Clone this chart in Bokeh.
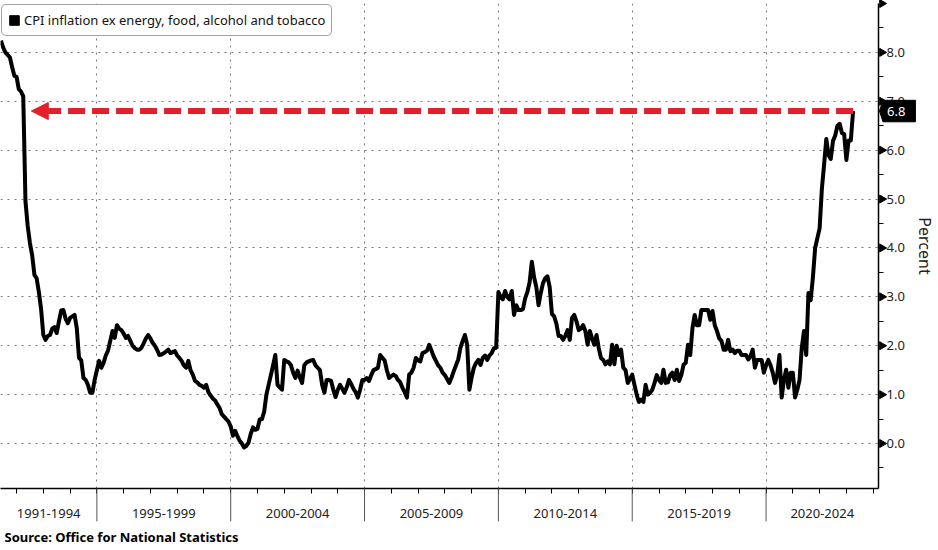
import math
from bokeh.plotting import figure
from bokeh.models import (Range1d, FixedTicker, Legend, LegendItem, Arrow,
                          NormalHead, Title, NumeralTickFormatter)
from bokeh.core.properties import value
from bokeh.embed import file_html
from bokeh.resources import INLINE

# ---------------- data (monthly, starting June 1991) ----------------
start_year, start_month = 1991, 6

cpi_1991_1994 = [8.24, 8.10, 8.00, 7.95, 7.90, 7.70, 7.52,
                 7.50, 7.25, 7.20, 7.10, 4.95, 4.45, 4.10, 3.85, 3.45, 3.38, 3.10, 2.75,
                 2.22, 2.12, 2.20, 2.22, 2.35, 2.38, 2.26, 2.50, 2.72, 2.73, 2.55, 2.46,
                 2.57, 2.60, 2.63, 2.36, 1.75, 1.70, 1.34, 1.30, 1.20, 1.04, 1.04, 1.30]
cpi_1995_1999 = [1.50, 1.69, 1.55, 1.65, 1.80, 1.90, 2.10, 2.30, 2.16, 2.42, 2.35, 2.32,
                 2.25, 2.16, 2.20, 2.10, 2.00, 1.95, 1.92, 1.92, 1.96, 2.05, 2.15, 2.22,
                 2.15, 2.06, 2.00, 1.92, 1.81, 1.82, 1.85, 1.88, 1.92, 1.85, 1.87, 1.89,
                 1.80, 1.75, 1.69, 1.60, 1.55, 1.69, 1.50, 1.41, 1.28, 1.25, 1.20, 1.18,
                 1.14, 1.20, 1.05, 0.98, 0.92, 0.88, 0.80, 0.73, 0.60, 0.55, 0.50, 0.45]
cpi_2000_2004 = [0.35, 0.16, 0.26, 0.15, 0.06, 0.00, -0.08, -0.05, 0.02, 0.20, 0.33, 0.28,
                 0.30, 0.49, 0.50, 0.65, 1.00, 1.20, 1.40, 1.60, 1.81, 1.20, 1.15, 1.10,
                 1.71, 1.68, 1.66, 1.60, 1.45, 1.34, 1.49, 1.35, 1.24, 1.60, 1.66, 1.68,
                 1.70, 1.71, 1.60, 1.55, 1.50, 1.20, 1.04, 1.30, 1.30, 1.28, 1.10, 0.95,
                 1.10, 1.20, 1.12, 1.04, 1.15, 1.30, 1.22, 1.12, 1.05, 0.94, 1.10, 1.30]
cpi_2005_2009 = [1.30, 1.34, 1.28, 1.40, 1.50, 1.52, 1.55, 1.81, 1.75, 1.70, 1.50, 1.34,
                 1.38, 1.41, 1.38, 1.30, 1.25, 1.14, 1.05, 0.94, 1.41, 1.45, 1.55, 1.75,
                 1.70, 1.68, 1.85, 1.87, 1.90, 2.02, 1.90, 1.78, 1.69, 1.60, 1.55, 1.45,
                 1.40, 1.32, 1.24, 1.35, 1.48, 1.60, 1.72, 1.96, 2.10, 2.22, 2.02, 1.10,
                 1.35, 1.55, 1.65, 1.71, 1.61, 1.75, 1.80, 1.71, 1.80, 1.85, 1.95, 1.96]
cpi_2010_2014 = [3.10, 3.00, 2.95, 3.12, 3.00, 2.95, 3.12, 2.63, 2.83, 2.73, 2.73, 2.75,
                 2.97, 3.10, 3.30, 3.72, 3.40, 3.20, 2.83, 3.08, 3.28, 3.38, 3.42, 3.20,
                 2.65, 2.60, 2.45, 2.20, 2.20, 2.12, 2.20, 2.32, 2.12, 2.57, 2.63, 2.50,
                 2.32, 2.35, 2.42, 2.30, 2.02, 2.30, 2.15, 2.02, 2.22, 1.95, 1.75, 1.71,
                 1.62, 1.68, 1.62, 2.02, 1.62, 2.00, 1.81, 1.92, 1.55, 1.50, 1.24, 1.32]
cpi_2015_2019 = [1.41, 1.20, 1.00, 0.85, 0.90, 0.85, 1.20, 1.00, 1.04, 1.10, 1.24, 1.40,
                 1.30, 1.24, 1.51, 1.24, 1.25, 1.40, 1.45, 1.30, 1.51, 1.28, 1.40, 1.61,
                 1.65, 2.02, 1.81, 2.36, 2.63, 2.42, 2.42, 2.73, 2.73, 2.73, 2.73, 2.53,
                 2.71, 2.42, 2.30, 2.15, 2.10, 1.92, 1.92, 2.12, 1.89, 1.92, 1.85, 1.90,
                 1.90, 1.81, 1.81, 1.81, 1.72, 1.78, 1.92, 1.55, 1.71, 1.71, 1.71, 1.45]
cpi_2020_2023 = [1.60, 1.71, 1.60, 1.45, 1.24, 1.40, 1.81, 0.94, 1.30, 1.51, 1.14, 1.45,
                 1.45, 0.94, 1.10, 1.30, 1.96, 2.30, 1.81, 3.08, 2.93, 3.40, 4.00, 4.20,
                 4.40, 5.20, 5.70, 6.23, 5.90, 5.82, 6.19, 6.30, 6.50, 6.54, 6.35, 6.33,
                 5.80, 6.20, 6.20, 6.80]

group_labels = ["1991-1994", "1995-1999", "2000-2004", "2005-2009",
                "2010-2014", "2015-2019", "2020-2024"]
group_bounds = [1995, 2000, 2005, 2010, 2015, 2020]
year_ticks = list(range(1992, 2025))
y_ticks = list(range(0, 10))
latest_value = 6.8
series_name = "CPI inflation ex energy, food, alcohol and tobacco"
source_text = "Source: Office for National Statistics"

values = (cpi_1991_1994 + cpi_1995_1999 + cpi_2000_2004 + cpi_2005_2009 +
          cpi_2010_2014 + cpi_2015_2019 + cpi_2020_2023)
t0 = start_year + (start_month - 1) / 12
times = [t0 + i / 12 for i in range(len(values))]

# ---------------- figure ----------------
X0, X1 = 1991.40, 2024.20
Y0, Y1 = -0.92, 9.0
FONT = "Noto Sans"
RED = "#e3202a"
FRAME_W = 880
FRAME_H = 550 - 3 - 60
px_x = FRAME_W / (X1 - X0)
px_y = FRAME_H / (Y1 - Y0)

p = figure(width=938, height=550, x_range=Range1d(X0, X1), y_range=Range1d(Y0, Y1),
           y_axis_location="right", x_axis_location="below",
           output_backend="svg", toolbar_location=None,
           min_border_left=0, min_border_top=3, min_border_right=58, min_border_bottom=60)
p.outline_line_color = None
p.background_fill_color = "white"
p.border_fill_color = "white"

# grids
p.xgrid.ticker = FixedTicker(ticks=group_bounds)
for g in (p.xgrid, p.ygrid):
    g.grid_line_color = "#777777"
    g.grid_line_dash = "2 5"
    g.grid_line_width = 1

# right axis
ay = p.yaxis[0]
ay.ticker = FixedTicker(ticks=y_ticks, minor_ticks=[k + 0.5 for k in range(-1, 9)])
ay.formatter = NumeralTickFormatter(format="0.0")
ay.major_label_overrides = {9: ""}
ay.axis_line_color = "black"
ay.axis_line_width = 1.5
ay.major_tick_out = 7
ay.major_tick_in = 0
ay.major_tick_line_color = None
ay.minor_tick_out = 5
ay.minor_tick_in = 0
ay.minor_tick_line_width = 1
ay.major_label_standoff = 1
ay.major_label_text_font = FONT
ay.major_label_text_font_size = "13px"
ay.major_label_text_color = "#222222"
ay.axis_label = "Percent"
ay.axis_label_text_font = FONT
ay.axis_label_text_font_style = "normal"
ay.axis_label_text_font_size = "16px"
ay.axis_label_text_color = "#222222"
ay.axis_label_standoff = 6

# bottom axis
centers = [(X0 + group_bounds[0]) / 2] + [b + 2.5 for b in group_bounds[:-1]] + [(group_bounds[-1] + X1) / 2]
ax = p.xaxis[0]
ax.ticker = FixedTicker(ticks=centers, minor_ticks=year_ticks)
ax.major_label_overrides = {c: lab for c, lab in zip(centers, group_labels)}
ax.major_tick_line_color = None
ax.major_tick_out = 0
ax.major_tick_in = 0
ax.minor_tick_out = 5
ax.minor_tick_in = 0
ax.minor_tick_line_color = "black"
ax.axis_line_color = "black"
ax.axis_line_width = 1.5
ax.major_label_standoff = 15
ax.major_label_text_font = FONT
ax.major_label_text_font_size = "13px"
ax.major_label_text_color = "#222222"

# group separators below the axis (overlay level, outside the frame)
p.segment(x0=group_bounds, x1=group_bounds, y0=[Y0] * len(group_bounds),
          y1=[Y0 - 33 / px_y] * len(group_bounds), line_color="#555555", line_width=1,
          level="overlay")

# triangle tick markers on the right axis
p.scatter(x=[X1 + 3.5 / px_x] * len(y_ticks), y=y_ticks, marker="triangle", size=8,
          angle=-math.pi / 2, fill_color="black", line_color="black", level="overlay")

# series line
line = p.line(times, values, line_color="black", line_width=4, line_join="round")

# legend (black square) - hidden placeholder renderer
sq = p.quad(left=[times[0]], right=[times[0]], top=[values[0]], bottom=[values[0]],
            fill_color="black", line_color="black", visible=False)
legend = Legend(items=[LegendItem(label=series_name, renderers=[sq])],
                location="top_left", margin=1, padding=6, spacing=0,
                glyph_width=12, glyph_height=12, label_standoff=4, label_height=18,
                label_text_font=FONT, label_text_font_size="13px", label_text_color="#111111",
                border_line_color="#444444", border_line_width=1, background_fill_alpha=1)
if "border_radius" in Legend.properties():
    legend.border_radius = 5
p.add_layout(legend)

# red dashed arrow at latest value
p.add_layout(Arrow(end=NormalHead(size=17, fill_color=RED, line_color=RED, line_width=1),
                   x_start=times[-1], y_start=latest_value, x_end=1992.55, y_end=latest_value,
                   line_color=RED, line_width=6, line_dash="17 7"))

# latest value tag on the axis (black box with notch + white text)
hy = 10.8 / px_y
tag_x = [X1 + 1.0 / px_x, X1 + 4.5 / px_x, X1 + 37.0 / px_x, X1 + 37.0 / px_x, X1 + 4.5 / px_x]
tag_y = [latest_value, latest_value + hy, latest_value + hy, latest_value - hy, latest_value - hy]
p.patch(tag_x, tag_y, fill_color="black", line_color="black", level="overlay")
p.text(x=[X1 + 8.5 / px_x], y=[latest_value], text=[f"{latest_value:.1f}"],
       text_color="white", text_font=value(FONT), text_font_size="13px",
       text_align="left", text_baseline="middle", level="overlay")

# source
p.add_layout(Title(text=source_text, align="left", text_font=FONT, text_font_style="bold",
                   text_font_size="13px", text_color="black", offset=4, standoff=10), "below")

open("out.html", "w").write(file_html(p, INLINE))
